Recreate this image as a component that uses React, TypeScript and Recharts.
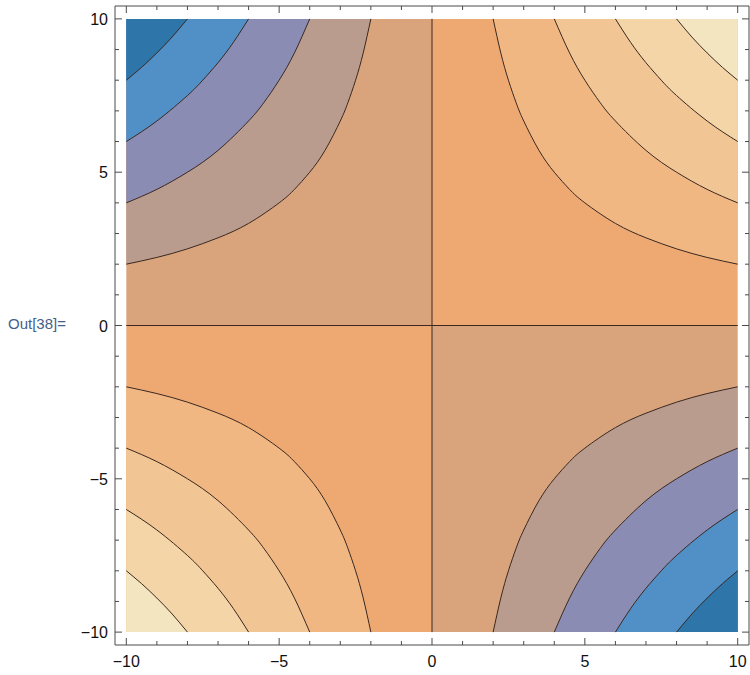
import React from "react"
import { Area, ComposedChart, Line, XAxis, YAxis } from "recharts"

// contour lines |f| = 20, 40, 60, 80
const level20 = [
  { x: 2, y: 10 }, { x: 2.25, y: 8.89 }, { x: 2.5, y: 8 }, { x: 2.75, y: 7.27 }, { x: 3, y: 6.67 },
  { x: 3.5, y: 5.71 }, { x: 4, y: 5 }, { x: 4.5, y: 4.44 }, { x: 5, y: 4 }, { x: 6, y: 3.33 },
  { x: 7, y: 2.86 }, { x: 8, y: 2.5 }, { x: 9, y: 2.22 }, { x: 10, y: 2 },
]
const level40 = [
  { x: 4, y: 10 }, { x: 4.5, y: 8.89 }, { x: 5, y: 8 }, { x: 5.5, y: 7.27 }, { x: 6, y: 6.67 },
  { x: 7, y: 5.71 }, { x: 8, y: 5 }, { x: 9, y: 4.44 }, { x: 10, y: 4 },
]
const level60 = [
  { x: 6, y: 10 }, { x: 6.5, y: 9.23 }, { x: 7, y: 8.57 }, { x: 7.5, y: 8 }, { x: 8, y: 7.5 },
  { x: 9, y: 6.67 }, { x: 10, y: 6 },
]
const level80 = [{ x: 8, y: 10 }, { x: 8.5, y: 9.41 }, { x: 9, y: 8.89 }, { x: 9.5, y: 8.42 }, { x: 10, y: 8 }]
const levels = [level20, level40, level60, level80]

// quadrant edge along y = 0
const quadrantEdge = [{ x: 0, y: 0 }, { x: 10, y: 0 }]

// band colours, from |f| = 0 outwards
const posColors = ["#eea973", "#f1b783", "#f2c694", "#f3d5a8", "#f4e5c1"]
const negColors = ["#d9a47c", "#b99c8e", "#8b8cb4", "#5190c7", "#2e75aa"]

const ticks = [-10, -9, -8, -7, -6, -5, -4, -3, -2, -1, 0, 1, 2, 3, 4, 5, 6, 7, 8, 9, 10]
const axisData = { h: [{ x: -10, y: 0 }, { x: 10, y: 0 }], v: [{ x: 0, y: -10 }, { x: 0, y: 10 }] }

const frame = "#4a4a4a"
const lineColor = "#3a2820"
const font = "'Liberation Sans', Arial, sans-serif"

const fmt = (v: number) => (v < 0 ? `\u2212${-v}` : `${v}`)
const isMajor = (v: number) => v % 5 === 0

const mirror = (pts: { x: number; y: number }[], sx: number, sy: number) =>
  pts.map((p) => ({ x: p.x * sx, y: p.y * sy })).sort((a, b) => a.x - b.x)

const BottomTick = ({ x, y, payload }: any) => (
  <g>
    <line x1={x} x2={x} y1={y} y2={y - (isMajor(payload.value) ? 7 : 4)} stroke={frame} />
    {isMajor(payload.value) && (
      <text x={x} y={y + 22} textAnchor="middle" fontSize={16} fontFamily={font} fill="#111">
        {fmt(payload.value)}
      </text>
    )}
  </g>
)
const TopTick = ({ x, y, payload }: any) => (
  <line x1={x} x2={x} y1={y} y2={y + (isMajor(payload.value) ? 7 : 4)} stroke={frame} />
)
const LeftTick = ({ x, y, payload }: any) => (
  <g>
    <line x1={x} x2={x + (isMajor(payload.value) ? 7 : 4)} y1={y} y2={y} stroke={frame} />
    {isMajor(payload.value) && (
      <text x={x - 7} y={y + 6} textAnchor="end" fontSize={16} fontFamily={font} fill="#111">
        {fmt(payload.value)}
      </text>
    )}
  </g>
)
const RightTick = ({ x, y, payload }: any) => (
  <line x1={x} x2={x - (isMajor(payload.value) ? 7 : 4)} y1={y} y2={y} stroke={frame} />
)

export default function App() {
  // quadrants: [sign x, sign y, colours]
  const quadrants: [number, number, string[]][] = [
    [1, 1, posColors],
    [-1, -1, posColors],
    [-1, 1, negColors],
    [1, -1, negColors],
  ]

  return (
    <div style={{ position: "absolute", left: 0, top: 0, width: 750, height: 675, background: "#fff" }}>
      <div
        style={{ position: "absolute", left: 8, top: 315, fontSize: 15, fontFamily: font, color: "#44608c" }}
      >
        Out[38]=
      </div>
      <ComposedChart width={750} height={675} margin={{ top: 5, right: 0, bottom: 0, left: 0 }}>
        <XAxis
          type="number"
          dataKey="x"
          domain={[-10.37, 10.37]}
          ticks={ticks}
          interval={0}
          allowDataOverflow
          height={30}
          tickSize={0}
          tickMargin={0}
          tickLine={false}
          axisLine={{ stroke: frame }}
          tick={<BottomTick />}
        />
        <XAxis
          xAxisId="top"
          orientation="top"
          type="number"
          dataKey="x"
          domain={[-10.37, 10.37]}
          ticks={ticks}
          interval={0}
          allowDataOverflow
          height={1}
          tickSize={0}
          tickMargin={0}
          tickLine={false}
          axisLine={{ stroke: frame }}
          tick={<TopTick />}
        />
        <YAxis
          type="number"
          domain={[-10.42, 10.42]}
          ticks={ticks}
          interval={0}
          allowDataOverflow
          width={115}
          tickSize={0}
          tickMargin={0}
          tickLine={false}
          axisLine={{ stroke: frame }}
          tick={<LeftTick />}
        />
        <YAxis
          yAxisId="right"
          orientation="right"
          type="number"
          domain={[-10.42, 10.42]}
          ticks={ticks}
          interval={0}
          allowDataOverflow
          width={1}
          tickSize={0}
          tickMargin={0}
          tickLine={false}
          axisLine={{ stroke: frame }}
          tick={<RightTick />}
        />

        {quadrants.map(([sx, sy, colors], qi) => [
          <Area
            key={`q${qi}-base`}
            data={mirror(quadrantEdge, sx, sy)}
            dataKey="y"
            type="linear"
            baseValue={10 * sy}
            fill={colors[0]}
            fillOpacity={1}
            stroke="none"
            isAnimationActive={false}
          />,
          ...levels.map((lv, li) => (
            <Area
              key={`q${qi}-l${li}`}
              data={mirror(lv, sx, sy)}
              dataKey="y"
              type="natural"
              baseValue={10 * sy}
              fill={colors[li + 1]}
              fillOpacity={1}
              stroke={lineColor}
              strokeWidth={1}
              isAnimationActive={false}
            />
          )),
        ])}

        <Line data={axisData.h} dataKey="y" stroke={lineColor} strokeWidth={1} dot={false} isAnimationActive={false} />
        <Line data={axisData.v} dataKey="y" stroke={lineColor} strokeWidth={1} dot={false} isAnimationActive={false} />
      </ComposedChart>
    </div>
  )
}
